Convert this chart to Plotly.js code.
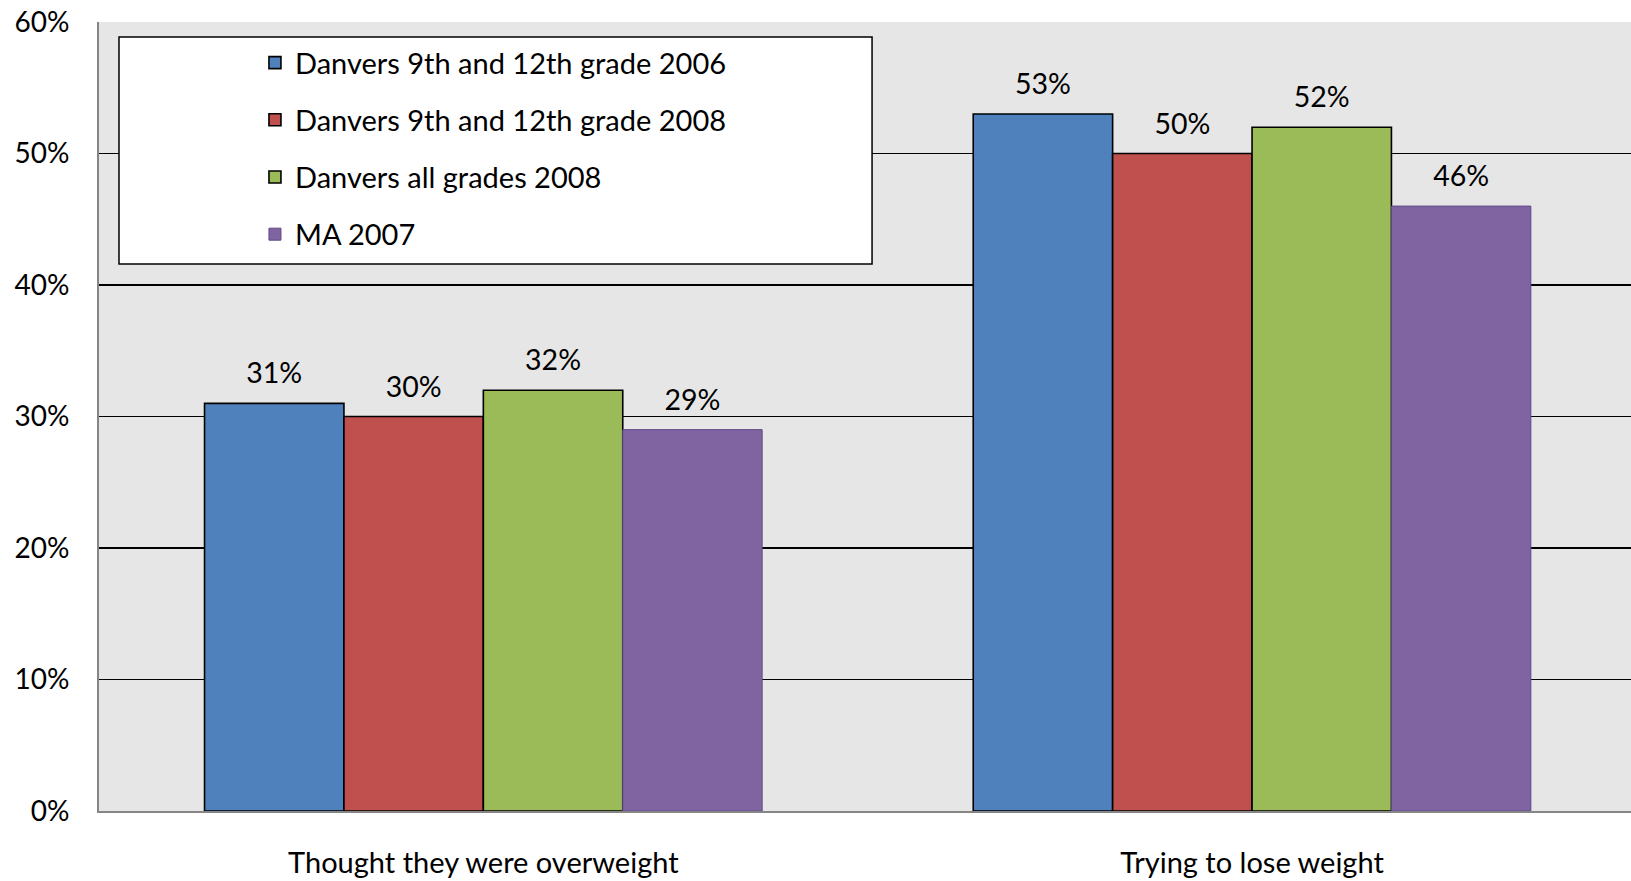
<!DOCTYPE html>
<html>
<head>
<meta charset="utf-8">
<script src="https://cdn.plot.ly/plotly-3.0.1.min.js"></script>
<style>html,body{margin:0;padding:0;background:#fff;}#chart{width:1631px;height:881px;}</style>
</head>
<body>
<div id="chart"></div>
<script>
const categories = ["Thought they were overweight", "Trying to lose weight"];
const seriesNames = ["Danvers 9th and 12th grade 2006", "Danvers 9th and 12th grade 2008", "Danvers all grades 2008", "MA 2007"];
const danvers912_2006 = [0.31, 0.53];
const danvers912_2008 = [0.30, 0.50];
const danversAll_2008 = [0.32, 0.52];
const ma_2007 = [0.29, 0.46];
const yTickVals = [0, 0.1, 0.2, 0.3, 0.4, 0.5, 0.6];

const seriesValues = [danvers912_2006, danvers912_2008, danversAll_2008, ma_2007];
const fills = ["#4f81bd", "#c0504d", "#9bbb59", "#8064a2"];
const outlines = ["#000000", "#000000", "#000000", "#5f4a86"];
const outlineW = [1.6, 1.6, 1.6, 1];
const FONT = "Lato, 'Open Sans', sans-serif";

const traces = [];
seriesValues.forEach((vals, i) => {
  traces.push({
    type: "bar", name: seriesNames[i], x: categories, y: vals,
    offsetgroup: "g" + i, legendgroup: "g" + i,
    marker: {color: fills[i], line: {color: outlines[i], width: outlineW[i]}},
    hoverinfo: "skip"
  });
});
seriesValues.forEach((vals, i) => {
  traces.push({
    type: "scatter", mode: "markers+text", x: categories, y: vals,
    offsetgroup: "g" + i, legendgroup: "g" + i, showlegend: false, hoverinfo: "skip", cliponaxis: false,
    marker: {size: 19, opacity: 0, color: fills[i]},
    text: vals.map(v => Math.round(v * 100) + "%"),
    textposition: "top center",
    textfont: {family: FONT, size: 28.5, color: "#000"}
  });
});

const layout = {
  width: 1631, height: 881,
  margin: {l: 99, r: 0, t: 22, b: 70, pad: 0},
  paper_bgcolor: "#ffffff", plot_bgcolor: "#e6e6e6",
  font: {family: FONT, size: 28, color: "#000"},
  barmode: "group", bargap: 0.2746, bargroupgap: 0,
  scattermode: "group", scattergap: 0.2746,
  xaxis: {
    type: "category", range: [-0.5, 1.493], showline: true, linecolor: "#868686", linewidth: 2,
    showgrid: false, ticks: "", ticklabelstandoff: 25, zeroline: false,
    tickfont: {family: FONT, size: 29, color: "#000"}
  },
  yaxis: {
    range: [0, 0.6], tickvals: yTickVals, tickformat: ".0%",
    showline: true, linecolor: "#868686", linewidth: 2,
    showgrid: true, gridcolor: "#000000", gridwidth: 1.5, zeroline: false,
    ticks: "", ticklabelstandoff: 22,
    tickfont: {family: FONT, size: 28, color: "#000"}
  },
  showlegend: true,
  legend: {
    x: 0.1018, xanchor: "left", y: 0.9807, yanchor: "top",
    bgcolor: "rgba(0,0,0,0)", borderwidth: 0,
    tracegroupgap: 16.5, traceorder: "grouped",
    font: {family: FONT, size: 29, color: "#000"}
  },
  shapes: [{
    type: "rect", xref: "paper", yref: "paper", layer: "above",
    x0: 0.01305, x1: 0.5046, y0: 0.6933, y1: 0.981,
    fillcolor: "#ffffff", line: {color: "#000000", width: 1.5}
  }]
};

Plotly.newPlot("chart", traces, layout, {staticPlot: true, displayModeBar: false});
</script>
</body>
</html>
